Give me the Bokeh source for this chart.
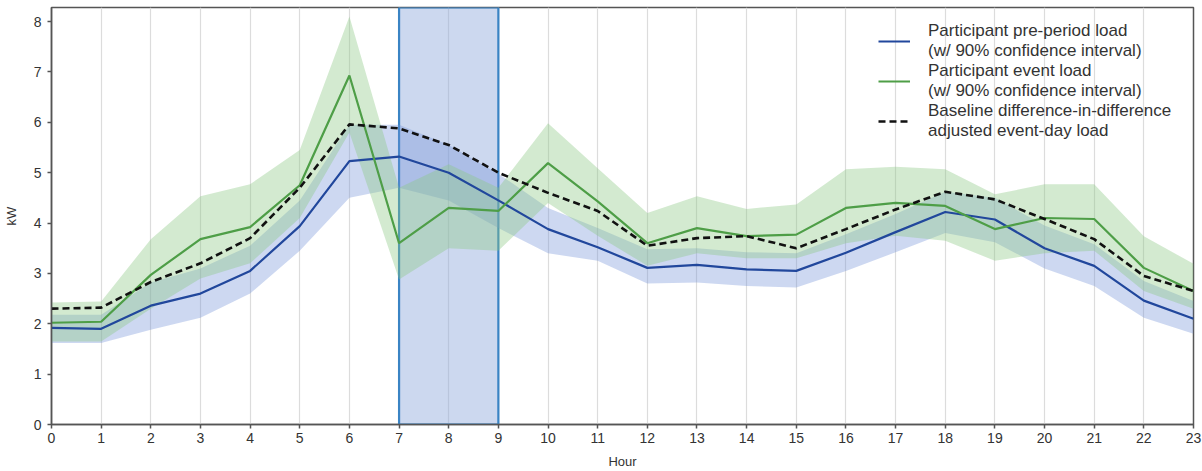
from bokeh.plotting import figure
from bokeh.models import Range1d, FixedTicker, Legend, LegendItem, BoxAnnotation
from bokeh.embed import file_html
from bokeh.resources import INLINE

hours = list(range(24))
pre = [1.92, 1.90, 2.36, 2.60, 3.05, 3.94, 5.23, 5.32, 5.00, 4.45, 3.88, 3.52, 3.11, 3.17, 3.08, 3.05, 3.41, 3.82, 4.22, 4.07, 3.50, 3.15, 2.46, 2.10]
pre_lo = [1.62, 1.62, 1.88, 2.12, 2.60, 3.45, 4.50, 4.70, 4.45, 3.90, 3.40, 3.25, 2.80, 2.82, 2.75, 2.72, 3.05, 3.42, 3.80, 3.62, 3.10, 2.75, 2.12, 1.80]
pre_hi = [2.18, 2.18, 2.82, 3.10, 3.55, 4.45, 5.95, 5.95, 5.55, 4.98, 4.30, 3.90, 3.48, 3.50, 3.42, 3.40, 3.78, 4.18, 4.62, 4.50, 3.95, 3.58, 2.85, 2.45]
event = [2.02, 2.04, 2.97, 3.68, 3.92, 4.75, 6.93, 3.60, 4.30, 4.24, 5.19, 4.43, 3.60, 3.90, 3.74, 3.77, 4.30, 4.40, 4.34, 3.88, 4.10, 4.08, 3.11, 2.65]
event_lo = [1.65, 1.65, 2.30, 2.90, 3.20, 4.10, 5.80, 2.88, 3.50, 3.45, 4.40, 3.75, 3.15, 3.40, 3.30, 3.30, 3.60, 3.75, 3.65, 3.25, 3.40, 3.45, 2.65, 2.30]
event_hi = [2.42, 2.44, 3.68, 4.53, 4.77, 5.45, 8.10, 4.70, 5.17, 4.70, 5.98, 5.09, 4.20, 4.53, 4.28, 4.37, 5.07, 5.12, 5.07, 4.57, 4.77, 4.77, 3.74, 3.19]
baseline = [2.30, 2.32, 2.83, 3.20, 3.70, 4.70, 5.96, 5.88, 5.55, 5.00, 4.60, 4.24, 3.55, 3.70, 3.74, 3.50, 3.88, 4.27, 4.62, 4.47, 4.08, 3.68, 2.95, 2.65]
event_window = (7, 9)
y_ticks = [0, 1, 2, 3, 4, 5, 6, 7, 8]
labels = ["Participant pre-period load\n(w/ 90% confidence interval)",
          "Participant event load\n(w/ 90% confidence interval)",
          "Baseline difference-in-difference\nadjusted event-day load"]

FONT = "Liberation Sans"
BLUE = "#21479c"
GREEN = "#4e9e47"

p = figure(frame_width=1142, frame_height=417, output_backend="svg", toolbar_location=None,
           x_range=Range1d(0, 23), y_range=Range1d(0, 8.28),
           min_border_left=48, min_border_right=10, min_border_top=7, min_border_bottom=47)
p.outline_line_color = "#555555"
p.outline_line_width = 1.5
p.background_fill_color = "white"
p.border_fill_color = "white"

p.xgrid.ticker = FixedTicker(ticks=hours)
p.xgrid.grid_line_color = "#dcdcdc"
p.xgrid.grid_line_width = 1.2
p.ygrid.grid_line_color = None

p.xaxis.ticker = FixedTicker(ticks=hours)
p.yaxis.ticker = FixedTicker(ticks=y_ticks)
for ax in (p.xaxis, p.yaxis):
    ax.major_label_text_font = FONT
    ax.major_label_text_font_size = "14px"
    ax.major_label_text_color = "#333333"
    ax.axis_line_color = "#555555"
    ax.axis_line_width = 1.5
    ax.major_tick_line_color = "#555555"
    ax.major_tick_line_width = 1.5
    ax.major_tick_out = 4
    ax.major_tick_in = 0
    ax.minor_tick_line_color = None
    ax.axis_label_text_font = FONT
    ax.axis_label_text_font_style = "normal"
    ax.axis_label_text_font_size = "13px"
    ax.axis_label_text_color = "#333333"
p.xaxis.axis_label = "Hour"
p.yaxis.axis_label = "kW"
p.xaxis.major_label_standoff = 4
p.yaxis.major_label_standoff = 6
p.xaxis.axis_label_standoff = 8
p.yaxis.axis_label_standoff = 12

box = BoxAnnotation(left=event_window[0], right=event_window[1],
                    fill_color="#8fa8dc", fill_alpha=0.45,
                    line_color="#3a84c4", line_alpha=1.0, line_width=2.2,
                    level="underlay")
p.add_layout(box)

p.varea(x=hours, y1=pre_lo, y2=pre_hi, fill_color="#6f8fd6", fill_alpha=0.35)
p.varea(x=hours, y1=event_lo, y2=event_hi, fill_color="#8cc784", fill_alpha=0.38)

r_pre = p.line(hours, pre, line_color=BLUE, line_width=2.2)
r_ev = p.line(hours, event, line_color=GREEN, line_width=2.2)
r_base = p.line(hours, baseline, line_color="#111111", line_width=2.6, line_dash="7 4")

legend = Legend(items=[LegendItem(label=labels[0], renderers=[r_pre]),
                       LegendItem(label=labels[1], renderers=[r_ev]),
                       LegendItem(label=labels[2], renderers=[r_base])],
                location=(827, 283))
legend.label_text_font = FONT
legend.label_text_font_size = "17px"
legend.label_text_color = "#333333"
legend.label_standoff = 18
legend.border_line_color = None
legend.background_fill_alpha = 0.0
legend.glyph_width = 32
legend.spacing = 0
legend.margin = 0
legend.padding = 4
p.add_layout(legend)

open("out.html", "w").write(file_html(p, INLINE))
